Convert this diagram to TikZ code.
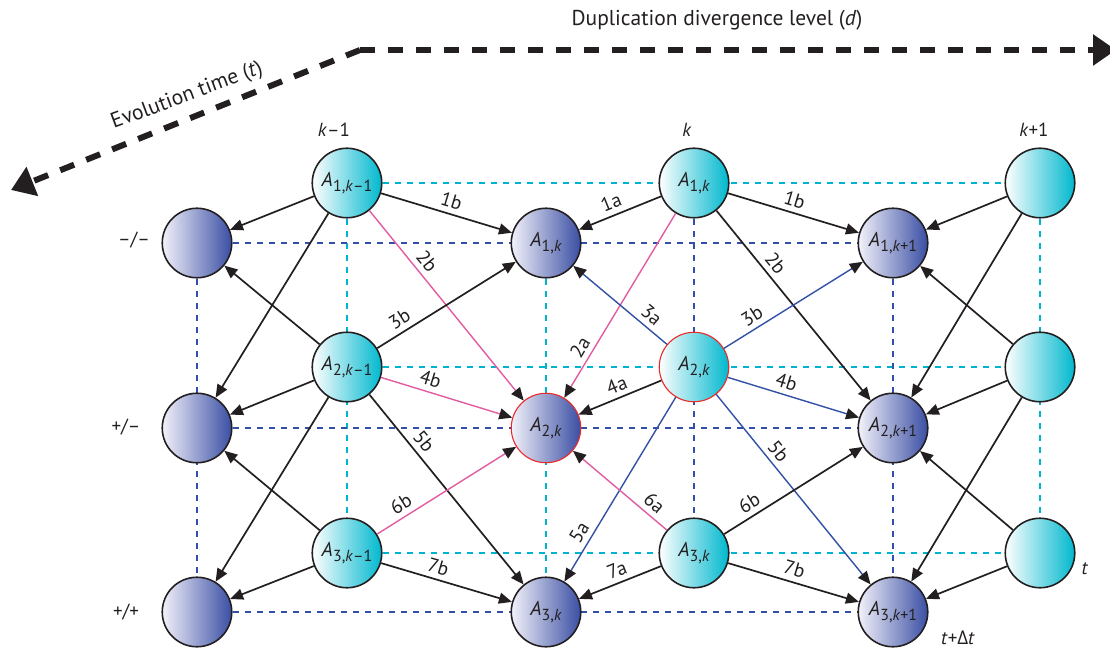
\documentclass[tikz,border=0pt]{standalone}
\usepackage{fontspec}
\setmainfont{PT Sans}
\newfontfamily\grkfont{Open Sans}
\usetikzlibrary{arrows.meta}
\pgfdeclarelayer{background}
\pgfsetlayers{background,main}

\definecolor{cyanfill}{RGB}{0,184,206}
\definecolor{bluefill}{RGB}{58,78,163}
\definecolor{palefill}{RGB}{242,242,250}
\definecolor{gridcyan}{RGB}{0,180,205}
\definecolor{gridblue}{RGB}{50,80,170}
\definecolor{edgeblue}{RGB}{50,80,165}
\definecolor{edgepink}{RGB}{225,92,160}
\definecolor{ringred}{RGB}{236,40,40}
\definecolor{ink}{RGB}{35,31,32}

% italic A with an index set a size smaller and lowered
\newcommand{\Aidx}[1]{\textit{A}\kern0.3pt\raisebox{-0.28em}{\fontsize{16}{16}\selectfont #1}}

\begin{document}
\begin{tikzpicture}[x=1pt,y=-1pt,
  state/.style={circle, draw=ink, line width=1.6pt, minimum size=69.5pt, inner sep=0pt,
    font=\fontsize{20}{20}\selectfont, text=ink},
  back/.style={state, left color=white, right color=cyanfill},
  front/.style={state, left color=palefill, right color=bluefill},
  ring/.style={draw=ringred, line width=1.1pt},
  link/.style={line width=1.7pt, draw=ink, -{Triangle[length=13pt,width=11pt,color=ink]}},
  pinklink/.style={link, line width=1.4pt, draw=edgepink},
  bluelink/.style={link, line width=1.4pt, draw=edgeblue},
  lab/.style={sloped, above, inner sep=5pt, font=\fontsize{19.5}{19.5}\selectfont, text=ink},
  gcyan/.style={draw=gridcyan, line width=1.8pt, dash pattern=on 6pt off 6pt},
  gblue/.style={draw=gridblue, line width=1.5pt, dash pattern=on 6pt off 6pt},
  axisline/.style={line width=6pt, draw=ink, dash pattern=on 15pt off 13pt,
    -{Triangle[length=23pt,width=30pt,color=ink]}},
  txt/.style={font=\fontsize{19}{19}\selectfont, text=ink, inner sep=0pt},
  axistxt/.style={txt, font=\fontsize{21.5}{21.5}\selectfont}
]
\useasboundingbox (0,0) rectangle (1110,655);

% ---- axes ----
\coordinate (corner) at (360,50);
\coordinate (dend) at (1116,50);
\coordinate (tend) at (11,190);
\draw[axisline] (corner) -- (dend);
\draw[axisline] (corner) -- (tend);
\node[axistxt] (dlab) at (717,20) {Duplication divergence level (\textit{d})};
\node[axistxt, rotate=20.5] (tlab) at (187,96) {Evolution time (\textit{t})};

% ---- states at time t (back layer) ----
\node[back] (c11) at (347,183) {\Aidx{1,\textit{k}–1}};
\node[back] (c21) at (347,367) {\Aidx{2,\textit{k}–1}};
\node[back] (c31) at (347,553) {\Aidx{3,\textit{k}–1}};
\node[back] (c12) at (694,183) {\Aidx{1,\textit{k}}};
\node[back, ring] (c22) at (694,367) {\Aidx{2,\textit{k}}};
\node[back] (c32) at (694,553) {\Aidx{3,\textit{k}}};
\node[back] (c13) at (1040,183) {};
\node[back] (c23) at (1040,367) {};
\node[back] (c33) at (1040,553) {};

% ---- states at time t + dt (front layer) ----
\node[front] (p11) at (197,243) {};
\node[front] (p21) at (197,428) {};
\node[front] (p31) at (197,612) {};
\node[front] (p12) at (546,243) {\Aidx{1,\textit{k}}};
\node[front, ring] (p22) at (546,428) {\Aidx{2,\textit{k}}};
\node[front] (p32) at (546,612) {\Aidx{3,\textit{k}}};
\node[front] (p13) at (893,243) {\Aidx{1,\textit{k}+1}};
\node[front] (p23) at (893,428) {\Aidx{2,\textit{k}+1}};
\node[front] (p33) at (893,612) {\Aidx{3,\textit{k}+1}};

% ---- column, row and time labels ----
\node[txt] (colA) at (334,130) {\textit{k}–1};
\node[txt] (colB) at (687,130) {\textit{k}};
\node[txt] (colC) at (1034,130) {\textit{k}+1};
\node[txt] (rowA) at (134,240) {–/–};
\node[txt] (rowB) at (126,427) {+/–};
\node[txt] (rowC) at (126,612) {+/+};
\node[txt] (tnow) at (1085,569) {\textit{t}};
\node[txt] (tnext) at (958,638) {\textit{t}+{\grkfont Δ}\textit{t}};

% ---- dashed grid behind the states ----
\begin{pgfonlayer}{background}
  \draw[gcyan] (c11.center) -- (c12.center) -- (c13.center);
  \draw[gcyan] (c21.center) -- (c22.center) -- (c23.center);
  \draw[gcyan] (c31.center) -- (c32.center) -- (c33.center);
  \draw[gcyan] (c11.center) -- (c21.center) -- (c31.center);
  \draw[gcyan] (c13.center) -- (c23.center) -- (c33.center);
  \draw[gcyan] (p12.center) -- (p22.center) -- (p32.center);
  \draw[gblue] (c12.center) -- (c22.center) -- (c32.center);
  \draw[gblue] (p11.center) -- (p12.center) -- (p13.center);
  \draw[gblue] (p21.center) -- (p22.center) -- (p23.center);
  \draw[gblue] (p31.center) -- (p32.center) -- (p33.center);
  \draw[gblue] (p11.center) -- (p21.center) -- (p31.center);
  \draw[gblue] (p13.center) -- (p23.center) -- (p33.center);
\end{pgfonlayer}

% ---- transitions from column k-1 ----
\draw[link] (c11) -- (p11);
\draw[link] (c11) -- (p21);
\draw[link] (c21) -- (p11);
\draw[link] (c21) -- (p21);
\draw[link] (c21) -- (p31);
\draw[link] (c31) -- (p21);
\draw[link] (c31) -- (p31);
\draw[link] (c11) -- node[lab, pos=0.51] {1b} (p12);
\draw[pinklink] (c11) -- node[lab, pos=0.31] {2b} (p22);
\draw[link] (c21) -- node[lab, pos=0.21] {3b} (p12);
\draw[pinklink] (c21) -- node[lab, pos=0.35] {4b} (p22);
\draw[link] (c21) -- node[lab, pos=0.29] {5b} (p32);
\draw[pinklink] (c31) -- node[lab, pos=0.22] {6b} (p22);
\draw[link] (c31) -- node[lab, pos=0.41] {7b} (p32);

% ---- transitions from column k into column k ----
\draw[link] (c12) -- node[lab, pos=0.55] {1a} (p12);
\draw[pinklink] (c12) -- node[lab, pos=0.76] {2a} (p22);
\draw[bluelink] (c22) -- node[lab, pos=0.25] {3a} (p12);
\draw[link] (c22) -- node[lab, pos=0.48] {4a} (p22);
\draw[bluelink] (c22) -- node[lab, pos=0.77] {5a} (p32);
\draw[pinklink] (c32) -- node[lab, pos=0.22] {6a} (p22);
\draw[link] (c32) -- node[lab, pos=0.48] {7a} (p32);

% ---- transitions from column k into column k+1 ----
\draw[link] (c12) -- node[lab, pos=0.48] {1b} (p13);
\draw[link] (c12) -- node[lab, pos=0.32] {2b} (p23);
\draw[bluelink] (c22) -- node[lab, pos=0.25] {3b} (p13);
\draw[bluelink] (c22) -- node[lab, pos=0.42] {4b} (p23);
\draw[bluelink] (c22) -- node[lab, pos=0.34] {5b} (p33);
\draw[link] (c32) -- node[lab, pos=0.23] {6b} (p23);
\draw[link] (c32) -- node[lab, pos=0.48] {7b} (p33);

% ---- transitions from column k+1 ----
\draw[link] (c13) -- (p13);
\draw[link] (c13) -- (p23);
\draw[link] (c23) -- (p13);
\draw[link] (c23) -- (p23);
\draw[link] (c23) -- (p33);
\draw[link] (c33) -- (p23);
\draw[link] (c33) -- (p33);
\end{tikzpicture}
\end{document}
